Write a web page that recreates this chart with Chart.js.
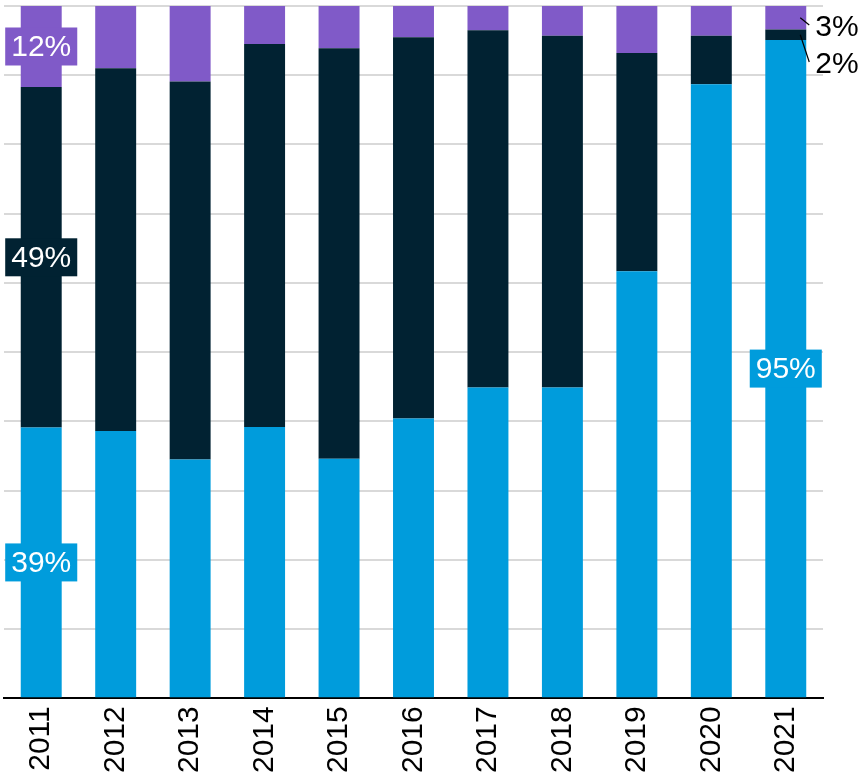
<!DOCTYPE html>
<html>
<head>
<meta charset="utf-8">
<script src="https://cdn.jsdelivr.net/npm/chart.js@4"></script>
<style>
  html, body { margin: 0; padding: 0; background: #fff; }
  #wrap { width: 864px; height: 781px; }
</style>
</head>
<body>
<div id="wrap"><canvas id="shareChart"></canvas></div>
<script>
const years = ['2011', '2012', '2013', '2014', '2015', '2016', '2017', '2018', '2019', '2020', '2021']
const blueShare = [39.1, 38.6, 34.5, 39.2, 34.6, 40.4, 44.9, 44.9, 61.7, 88.7, 95.1]
const darkShare = [49.2, 52.4, 54.6, 55.3, 59.3, 55.1, 51.6, 50.8, 31.5, 7.0, 1.5]
const purpleShare = [11.7, 9.0, 10.9, 5.5, 6.1, 4.5, 3.5, 4.3, 6.8, 4.3, 3.4]
const yTicks = [0, 10, 20, 30, 40, 50, 60, 70, 80, 90, 100]

const FONT = '"Liberation Sans", Arial, sans-serif'

// labels drawn on the bars: [dataset, index]
const boxLabels = [[0, 0], [1, 0], [2, 0], [0, 10]]
// labels placed outside the last bar with a leader line
const sideLabels = [[2, 10, 28], [1, 10, 65]]

const barLabels = {
    id: 'barLabels',
    afterDatasetsDraw(chart) {
        const ctx = chart.ctx
        ctx.save()
        ctx.font = '30px ' + FONT
        ctx.textBaseline = 'middle'
        ctx.textAlign = 'center'
        boxLabels.forEach(([d, i]) => {
            const el = chart.getDatasetMeta(d).data[i]
            const val = chart.data.datasets[d].data[i]
            const txt = Math.round(val) + '%'
            const cy = (el.y + el.base) / 2
            const w = ctx.measureText(txt).width + 12
            const h = 38
            ctx.fillStyle = chart.data.datasets[d].backgroundColor
            ctx.fillRect(el.x - w / 2, cy - h / 2, w, h)
            ctx.fillStyle = '#fff'
            ctx.fillText(txt, el.x, cy + 1)
        })
        ctx.textAlign = 'left'
        ctx.strokeStyle = '#000'
        ctx.lineWidth = 1.2
        sideLabels.forEach(([d, i, ty]) => {
            const el = chart.getDatasetMeta(d).data[i]
            const val = chart.data.datasets[d].data[i]
            const txt = Math.round(val) + '%'
            const right = el.x + el.width / 2
            const cy = (el.y + el.base) / 2
            ctx.beginPath()
            ctx.moveTo(right - 6, cy)
            ctx.lineTo(right + 3, ty - 3)
            ctx.stroke()
            ctx.fillStyle = '#000'
            ctx.fillText(txt, right + 9, ty)
        })
        ctx.restore()
    }
}

new Chart(document.getElementById('shareChart'), {
    type: 'bar',
    data: {
        labels: years,
        datasets: [
            { label: 'Blue', data: blueShare, backgroundColor: '#009CDC' },
            { label: 'Dark', data: darkShare, backgroundColor: '#012232' },
            { label: 'Purple', data: purpleShare, backgroundColor: '#805AC8' }
        ]
    },
    options: {
        responsive: true,
        maintainAspectRatio: false,
        animation: false,
        layout: { padding: { left: 4, right: 41, top: 6, bottom: 0 } },
        datasets: {
            bar: { barPercentage: 0.55, categoryPercentage: 1.0, borderWidth: 0 }
        },
        plugins: {
            legend: { display: false },
            tooltip: { enabled: false }
        },
        scales: {
            x: {
                stacked: true,
                grid: { display: false, drawTicks: false },
                border: { display: true, color: '#000', width: 2 },
                ticks: {
                    color: '#000',
                    font: { size: 30, family: FONT },
                    maxRotation: 90,
                    minRotation: 90,
                    padding: 8
                }
            },
            y: {
                stacked: true,
                min: 0,
                max: 100,
                afterBuildTicks(axis) {
                    axis.ticks = yTicks.map(v => ({ value: v }))
                },
                grid: { color: '#d9d9d9', lineWidth: 2, drawTicks: false },
                border: { display: false },
                ticks: { display: false }
            }
        }
    },
    plugins: [barLabels]
})
</script>
</body>
</html>
